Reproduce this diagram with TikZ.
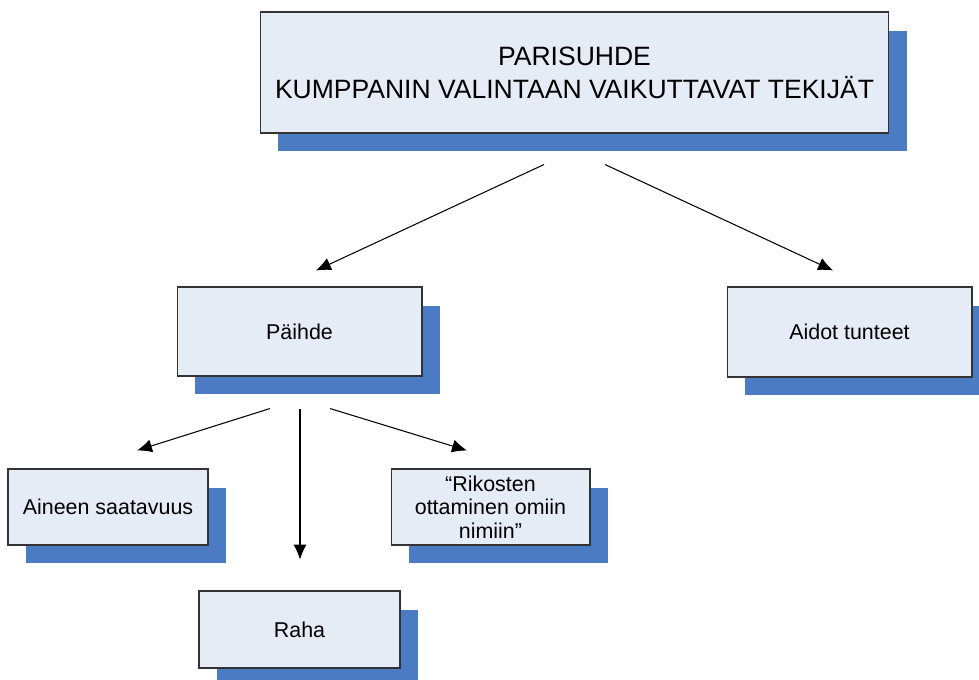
\documentclass[tikz,border=0pt]{standalone}
\usepackage{fontspec}
\setmainfont{Liberation Sans}
\usetikzlibrary{arrows.meta,shadows}
\definecolor{boxfill}{RGB}{230,236,246}
\definecolor{shadowblue}{RGB}{74,123,195}

\begin{document}
\begin{tikzpicture}[x=0.02cm,y=-0.02cm,
  every path/.style={>={Latex[length=8.5pt,width=7.5pt]},line width=0.6pt},
  box/.style={draw=black!80,fill=boxfill,rectangle,inner sep=0pt,align=center,
    font=\fontsize{12.2}{13.4}\selectfont,
    drop shadow={fill=shadowblue,opacity=1,shadow xshift=0.36cm,shadow yshift=-0.37cm}}]
\useasboundingbox (0,0) rectangle (979,679);
\node[box,minimum width=12.58cm,minimum height=2.42cm,
      font=\fontsize{15.1}{18.7}\selectfont] (top) at (574.5,72.5)
      {PARISUHDE\\KUMPPANIN VALINTAAN VAIKUTTAVAT TEKIJÄT};
\node[box,minimum width=4.9cm,minimum height=1.78cm]  (paihde)   at (299.5,331.5) {Päihde};
\node[box,minimum width=4.9cm,minimum height=1.8cm]   (aidot)    at (849.5,332)   {Aidot tunteet};
\node[box,minimum width=4cm,minimum height=1.52cm]    (aineen)   at (108,507)     {Aineen saatavuus};
\node[box,minimum width=3.98cm,minimum height=1.52cm] (rikosten) at (490.5,507)   {“Rikosten\\ottaminen omiin\\nimiin”};
\node[box,minimum width=4.02cm,minimum height=1.54cm] (raha)     at (299.5,629.5) {Raha};
\draw[->] ([shift={(-30.5,31)}]top.south)   -- ([shift={(16.5,-16)}]paihde.north);
\draw[->] ([shift={(30.5,31)}]top.south)    -- ([shift={(-16.5,-16)}]aidot.north);
\draw[->] ([shift={(-29.5,32)}]paihde.south) -- ([shift={(29,-18)}]aineen.north);
\draw[->] ([shift={(0.5,32)}]paihde.south)   -- ([shift={(0.5,-31)}]raha.north);
\draw[->] ([shift={(30.5,32)}]paihde.south)  -- ([shift={(-23.5,-18)}]rikosten.north);
\end{tikzpicture}
\end{document}
